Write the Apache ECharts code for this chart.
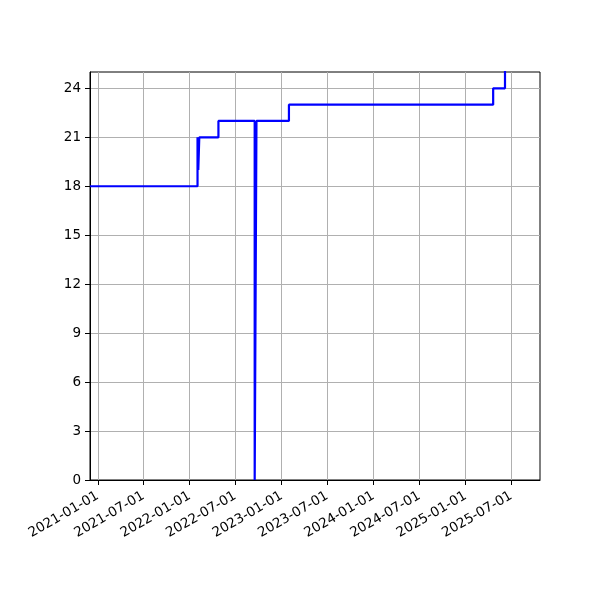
<!DOCTYPE html>
<html>
<head>
<meta charset="utf-8">
<script src="https://cdn.jsdelivr.net/npm/echarts@6/dist/echarts.min.js"></script>
<style>html,body{margin:0;padding:0;background:#fff}#c{width:600px;height:600px}</style>
</head>
<body>
<div id="c"></div>
<script>
const dates = ['2020-12-01','2022-02-01','2022-02-04','2022-02-08','2022-04-25','2022-09-16','2022-09-23','2023-01-30','2025-04-20','2025-06-06','2025-10-31'];
const values = [18, 21, 19, 21, 22, 0, 22, 23, 24, 27, 27];
const xTickLabels = ['2021-01-01','2021-07-01','2022-01-01','2022-07-01','2023-01-01','2023-07-01','2024-01-01','2024-07-01','2025-01-01','2025-07-01'];
const yTickValues = [0, 3, 6, 9, 12, 15, 18, 21, 24];
const xMinDate = '2020-12-01';
const xMaxDate = '2025-10-23';

function ts(s) { const p = s.split('-').map(Number); return Date.UTC(p[0], p[1] - 1, p[2]); }
function pad(n) { return (n < 10 ? '0' : '') + n; }
function fmt(v) { const d = new Date(v); return d.getUTCFullYear() + '-' + pad(d.getUTCMonth() + 1) + '-' + pad(d.getUTCDate()); }

const chart = echarts.init(document.getElementById('c'), null, { renderer: 'canvas' });
const font = 'DejaVu Sans';
const xTickVals = xTickLabels.map(ts);
chart.setOption({
  animation: false,
  backgroundColor: '#fff',
  grid: { left: 90, right: 60, top: 72, bottom: 120, show: true, borderColor: '#000', borderWidth: 1, backgroundColor: 'transparent' },
  xAxis: {
    type: 'value',
    min: ts(xMinDate),
    max: ts(xMaxDate),
    axisLine: { show: true, lineStyle: { color: '#000', width: 1 } },
    axisTick: { show: true, length: 5, lineStyle: { color: '#000', width: 1 }, customValues: xTickVals },
    axisLabel: { customValues: xTickVals, formatter: fmt, rotate: 30, color: '#000', fontFamily: font, fontSize: 13.5, margin: 15, showMinLabel: true, showMaxLabel: true },
    splitLine: { show: true, lineStyle: { color: '#b0b0b0', width: 1 } }
  },
  yAxis: {
    type: 'value',
    min: 0,
    max: 25,
    axisLine: { show: true, lineStyle: { color: '#000', width: 1 } },
    axisTick: { show: true, length: 5, lineStyle: { color: '#000', width: 1 }, customValues: yTickValues },
    axisLabel: { customValues: yTickValues, color: '#000', fontFamily: font, fontSize: 13.5, margin: 9 },
    splitLine: { show: true, lineStyle: { color: '#b0b0b0', width: 1 } }
  },
  series: [{
    type: 'line',
    step: 'end',
    data: dates.map((d, i) => [ts(d), values[i]]),
    showSymbol: false,
    symbol: 'none',
    clip: true,
    lineStyle: { color: '#0000ff', width: 2.2 }
  }]
});
</script>
</body>
</html>
